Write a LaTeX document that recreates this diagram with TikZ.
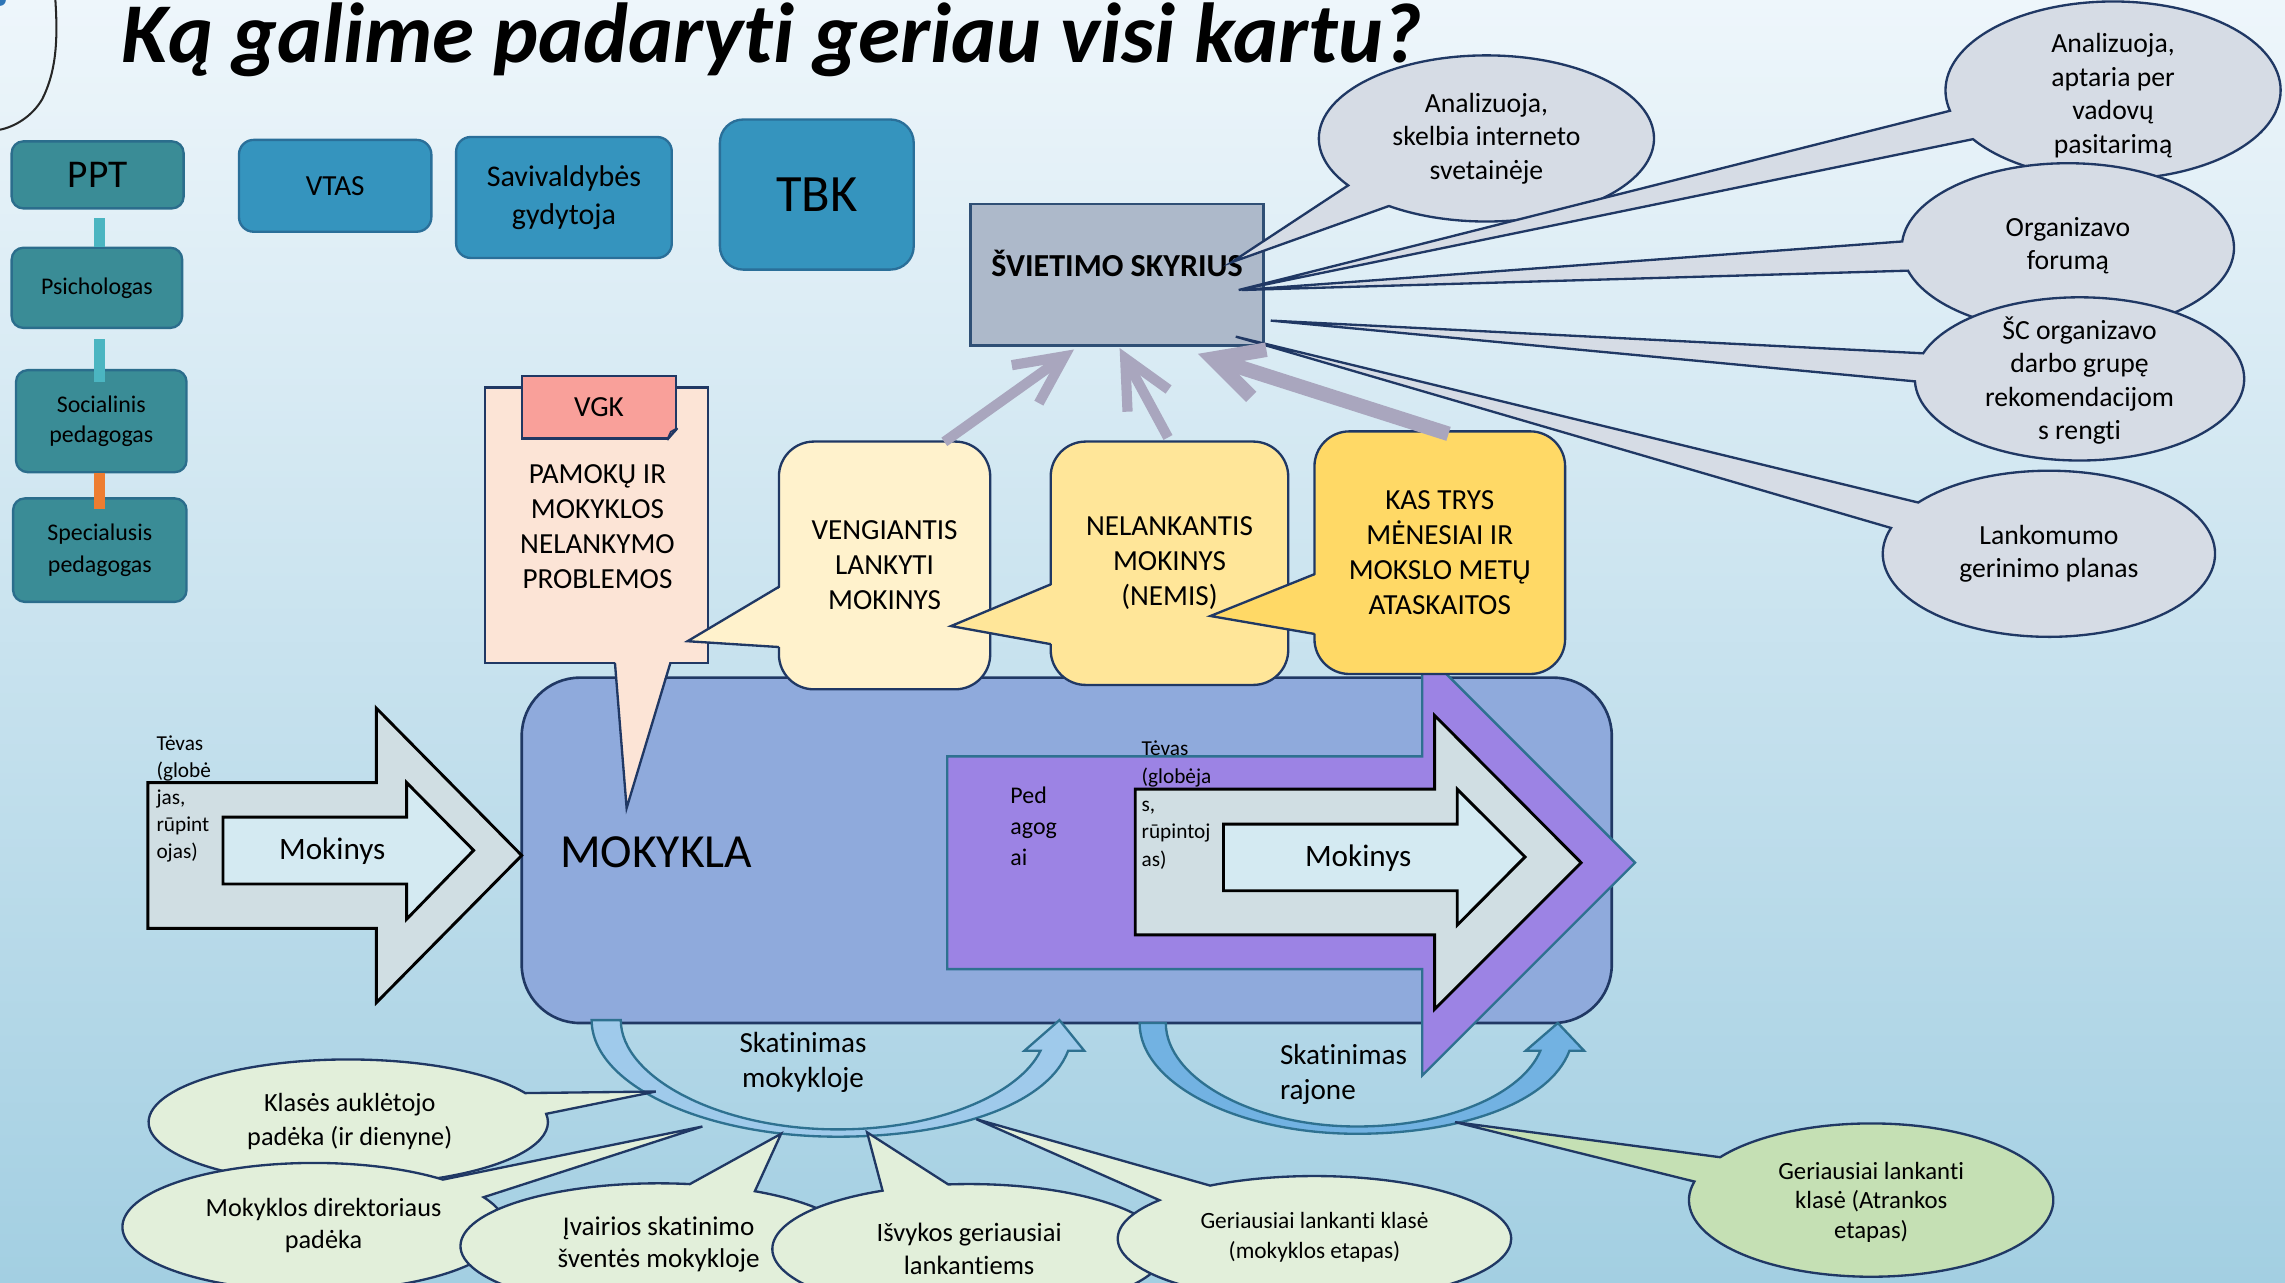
\documentclass[tikz,border=0pt]{standalone}
\usepackage{fontspec}
\setmainfont[Ligatures=NoCommon]{Carlito}
\usetikzlibrary{shapes.callouts,arrows.meta}
\newcommand\fsz[2]{\fontsize{#1}{#2}\selectfont}
\definecolor{bgtop}{HTML}{EEF6FB}
\definecolor{bgbot}{HTML}{A3CFE2}
\definecolor{tealfill}{HTML}{3A8C96}
\definecolor{tealline}{HTML}{2B6D8C}
\definecolor{bluefill}{HTML}{3594BE}
\definecolor{blueline}{HTML}{2A6F99}
\definecolor{bluedot}{HTML}{2E75B6}
\definecolor{navy}{HTML}{203864}
\definecolor{svline}{HTML}{2F4F75}
\definecolor{svfill}{HTML}{ADB9CA}
\definecolor{bubble}{HTML}{D6DCE5}
\definecolor{mokfill}{HTML}{8FAADC}
\definecolor{purp}{HTML}{9C83E4}
\definecolor{purpline}{HTML}{2E7190}
\definecolor{arrowgray}{HTML}{D0DEE3}
\definecolor{arrowlight}{HTML}{D4EAF2}
\definecolor{peach}{HTML}{FCE4D6}
\definecolor{salmon}{HTML}{F9A09A}
\definecolor{cream}{HTML}{FFF2CC}
\definecolor{yellowmid}{HTML}{FFE699}
\definecolor{yellowdeep}{HTML}{FFD966}
\definecolor{grayarrow}{HTML}{A9A6BE}
\definecolor{curveA}{HTML}{9FCAEB}
\definecolor{curveB}{HTML}{72B2E2}
\definecolor{greenlight}{HTML}{E2EFDA}
\definecolor{greenmid}{HTML}{C5E0B4}
\definecolor{barteal}{HTML}{4BB5C1}
\definecolor{barorange}{HTML}{ED7D31}
\begin{document}
\begin{tikzpicture}[x=0.5pt,y=-0.5pt,
  lbox/.style={draw=tealline,fill=tealfill,line width=0.8pt,rounded corners=4pt,inner sep=0pt,align=center},
  tbox/.style={draw=blueline,fill=bluefill,line width=0.8pt,rounded corners=5pt,inner sep=0pt,align=center},
  txt/.style={inner sep=0pt,align=center},
  ecall/.style={ellipse callout,draw=navy,fill=bubble,line width=0.8pt,inner sep=0pt,callout pointer arc=20},
  gcall/.style={ellipse callout,draw=navy,fill=greenlight,line width=0.8pt,inner sep=0pt,callout pointer arc=20},
  rbody/.style={draw=navy,line width=0.8pt,rounded corners=12pt,inner sep=0pt,align=center,font=\fsz{10}{12}},
  tailline/.style={draw=navy,line width=0.8pt,line join=miter},
  bigarrow/.style={draw=black,line width=1pt,line join=miter},
  curvearrow/.style={draw=purpline,line width=0.8pt},
  garrowA/.style={draw=grayarrow,line width=3.5pt,-{Straight Barb[length=16.5pt,width=16pt]}},
  garrowB/.style={draw=grayarrow,line width=5pt,-{Straight Barb[length=16.5pt,width=17pt]}},
  barA/.style={draw=barteal,line width=3.7pt},
  barB/.style={draw=barorange,line width=3.7pt}
]
\useasboundingbox (0,0) rectangle (1568,880);
\clip (0,0) rectangle (1568,880);
\shade[top color=bgtop,bottom color=bgbot] (0,0) rectangle (1568,880);
% top-left ornament
\draw[black!85,line width=0.7pt] (38,0) .. controls (40,30) and (38,50) .. (29,68) .. controls (22,80) and (10,87) .. (0,89);
\fill[bluedot] (0,0) circle (4);
% title
\node[anchor=base west,inner sep=0pt,font=\fsz{29.2}{32}\bfseries\itshape] (title) at (83,43) {Ką galime padaryti geriau visi kartu?};
% left column
\node[lbox,minimum width=59pt,minimum height=23pt,font=\fsz{13.5}{15}] (ppt) at (67,120) {PPT};
\node[lbox,minimum width=58.5pt,minimum height=27.5pt,font=\fsz{8.2}{10.5}] (psi) at (66.5,197.5) {Psichologas};
\node[lbox,minimum width=58.5pt,minimum height=35pt,font=\fsz{8.2}{10.5}] (soc) at (69.5,289) {Socialinis\\pedagogas};
\node[lbox,minimum width=59.5pt,minimum height=35.5pt,font=\fsz{8.2}{11}] (spec) at (68.5,377.5) {Specialusis\\pedagogas};
\draw[barA] ([shift={(1.5,6)}]ppt.south) -- ([shift={(2,0)}]psi.north);
\draw[barA] ([shift={(2,7)}]psi.south) -- ([shift={(-1,9)}]soc.north);
\draw[barB] ([shift={(-1,0)}]soc.south) -- ([shift={(0,8)}]spec.north);
% top boxes
\node[tbox,minimum width=66pt,minimum height=31.5pt,font=\fsz{10}{12}] (vtas) at (230,127.5) {VTAS};
\node[tbox,minimum width=74pt,minimum height=41.5pt,font=\fsz{10.3}{13}] (gyd) at (387,135.5) {Savivaldybės\\gydytoja};
\node[tbox,rounded corners=8pt,minimum width=66.5pt,minimum height=51.5pt,font=\fsz{18}{20}] (tbk) at (560.5,133.5) {TBK};
% Svietimo skyrius
\node[draw=svline,fill=svfill,line width=0.8pt,minimum width=100.5pt,minimum height=48.5pt,inner sep=0pt] (sv) at (766.5,188.5) {};
\node[txt,font=\fsz{11}{13}\bfseries] (svt) at (766.5,181) {ŠVIETIMO SKYRIUS};
% top callouts
\node[ecall,minimum width=115pt,minimum height=57pt,callout absolute pointer={(845,180)}] (b1) at (1020,95) {};
\node[txt,font=\fsz{9.5}{11.5}] (b1t) at (1020,95) {Analizuoja,\\skelbia interneto\\svetainėje};
\node[ecall,minimum width=115pt,minimum height=61pt,callout absolute pointer={(850,199)}] (b2) at (1450,62) {};
\node[txt,font=\fsz{9.5}{11.5}] (b2t) at (1450,65.5) {Analizuoja,\\aptaria per\\vadovų\\pasitarimą};
\node[ecall,minimum width=114pt,minimum height=58pt,callout absolute pointer={(852,199)}] (b3) at (1419,170) {};
\node[txt,font=\fsz{9.5}{11.5}] (b3t) at (1419,168.5) {Organizavo\\forumą};
\node[ecall,minimum width=113pt,minimum height=56pt,callout absolute pointer={(872,220)}] (b4) at (1427,260) {};
\node[txt,font=\fsz{9.5}{11.5}] (b4t) at (1427,261) {ŠC organizavo\\darbo grupę\\rekomendacijom\\s rengti};
\node[ecall,minimum width=114pt,minimum height=57pt,callout absolute pointer={(848,231)}] (b5) at (1406,380) {};
\node[txt,font=\fsz{9.5}{11.5}] (b5t) at (1406,380) {Lankomumo\\gerinimo planas};
% MOKYKLA
\node[draw=navy,fill=mokfill,line width=0.9pt,rounded corners=20pt,minimum width=374pt,minimum height=118.5pt,inner sep=0pt] (mokykla) at (732,583.5) {};
\node[txt,anchor=west,font=\fsz{16.3}{18}] (mokt) at (384,585) {MOKYKLA};
% curved arrows
\filldraw[curvearrow,fill=curveA] (406,700) -- (426,700) .. controls (426,739) and (493,775) .. (575,775) .. controls (645,775) and (700,750) .. (714,721) -- (703,721) -- (727,700) -- (744,721) -- (733,721) .. controls (718,760) and (650,780) .. (575,780) .. controls (482,780) and (406,744) .. (406,700) -- cycle;
\filldraw[curvearrow,fill=curveB] (782,702) -- (800,702) .. controls (800,740) and (860,773) .. (931,773) .. controls (995,773) and (1045,750) .. (1057,721) -- (1047,721) -- (1069,702) -- (1087,721) -- (1077,721) .. controls (1063,758) and (1000,778) .. (931,778) .. controls (850,778) and (782,744) .. (782,702) -- cycle;
\node[txt,font=\fsz{10}{12}] (sk1) at (551,729) {Skatinimas\\mokykloje};
\node[txt,anchor=west,align=left,font=\fsz{10}{12}] (sk2) at (878,737) {Skatinimas\\rajone};
% purple arrow
\filldraw[draw=purpline,fill=purp,line width=0.8pt] (650,519) -- (976,519) -- (976,446) -- (1122,592) -- (976,738) -- (976,665) -- (650,665) -- cycle;
\node[txt,anchor=west,align=left,font=\fsz{8.2}{10.5}] (ped) at (693,567) {Ped\\agog\\ai};
\filldraw[bigarrow,fill=arrowgray] (779,541.5) -- (984.5,541.5) -- (984.5,491) -- (1085,592) -- (984.5,692.5) -- (984.5,641.5) -- (779,641.5) -- cycle;
\filldraw[bigarrow,fill=arrowlight] (839.6,565.5) -- (1000,565.5) -- (1000,541.6) -- (1046.5,588) -- (1000,634.8) -- (1000,611.2) -- (839.6,611.2) -- cycle;
\node[txt,anchor=west,align=left,font=\fsz{7.3}{9.5}] (tev2) at (783,552.5) {Tėvas\\(globėja\\s,\\rūpintoj\\as)};
\node[txt,font=\fsz{10.7}{12}] (mok2) at (932,589) {Mokinys};
% left arrows
\filldraw[bigarrow,fill=arrowgray] (101.5,537) -- (258.3,537) -- (258.3,486) -- (358,587) -- (258.3,688) -- (258.3,637) -- (101.5,637) -- cycle;
\filldraw[bigarrow,fill=arrowlight] (153,560.7) -- (279,560.7) -- (279,537) -- (325,583.5) -- (279,630.8) -- (279,606.6) -- (153,606.6) -- cycle;
\node[txt,anchor=west,align=left,font=\fsz{7.3}{9.25}] (tev1) at (107,548) {Tėvas\\(globė\\jas,\\rūpint\\ojas)};
\node[txt,font=\fsz{10.7}{12}] (mok1) at (228,584) {Mokinys};
% peach paper with tail
\node[draw=navy,fill=peach,line width=0.8pt,minimum width=76.5pt,minimum height=94.5pt,inner sep=0pt] (pam) at (409.5,360.5) {};
\fill[peach] (422,452) -- (430,554.5) -- (460,452) -- cycle;
\draw[tailline] (422,455) -- (430,554.5) -- (460,455);
\node[txt,font=\fsz{10}{12}] (pamt) at (410,361.5) {PAMOKŲ IR\\MOKYKLOS\\NELANKYMO\\PROBLEMOS};
% VGK tag
\node[draw=navy,fill=salmon,line width=0.8pt,minimum width=53pt,minimum height=21.5pt,inner sep=0pt,font=\fsz{10}{12}] (vgk) at (411,279.5) {VGK};
\fill[peach] ([shift={(1.5,-8)}]vgk.south east) -- ([shift={(1.5,1.5)}]vgk.south east) -- ([shift={(-8,1.5)}]vgk.south east) -- cycle;
\draw[tailline] ([shift={(0,-8)}]vgk.south east) -- ([shift={(-7,0)}]vgk.south east);
\draw[navy,line width=0.6pt] ([shift={(0,-8)}]vgk.south east) -- ([shift={(-4.5,-5.5)}]vgk.south east) -- ([shift={(-7,0)}]vgk.south east);
% rounded callouts
\node[rbody,fill=cream,minimum width=72.5pt,minimum height=85pt] (veng) at (607,388) {VENGIANTIS\\LANKYTI\\MOKINYS};
\fill[cream] (536.5,402.6) -- (471.8,440) -- (536.5,444) -- cycle;
\draw[tailline] (534.6,402.6) -- (471.8,440) -- (534.6,444);
\node[rbody,fill=yellowmid,minimum width=81.5pt,minimum height=83.5pt] (nel) at (802.5,386.5) {NELANKANTIS\\MOKINYS\\(NEMIS)};
\fill[yellowmid] (723,401) -- (652.6,429.6) -- (723,442) -- cycle;
\draw[tailline] (721,401) -- (652.6,429.6) -- (721,442);
\node[rbody,fill=yellowdeep,minimum width=86pt,minimum height=83.25pt] (kas) at (988,379.25) {KAS TRYS\\MĖNESIAI IR\\MOKSLO METŲ\\ATASKAITOS};
\fill[yellowdeep] (904,394) -- (830.6,422.7) -- (904,435) -- cycle;
\draw[tailline] (902,394) -- (830.6,422.7) -- (902,435);
% gray arrows to Svietimo skyrius
\draw[garrowA] ([shift={(41,1)}]veng.north) -- ([shift={(-29.5,2)}]sv.south);
\draw[garrowA] ([shift={(-1,-2)}]nel.north) -- ([shift={(1.8,1)}]sv.south);
\draw[garrowB] ([shift={(6,2.5)}]kas.north) -- ([shift={(55.5,5)}]sv.south);
% bottom callouts
\node[gcall,minimum width=137pt,minimum height=43pt,callout absolute pointer={(450,749)}] (g1) at (239,770) {};
\node[txt,font=\fsz{9}{11.5}] (g1t) at (240,769.5) {Klasės auklėtojo\\padėka (ir dienyne)};
\node[gcall,minimum width=131.5pt,minimum height=44pt,callout absolute pointer={(482,773)}] (g2) at (215.5,842) {};
\node[txt,font=\fsz{9}{11}] (g2t) at (222,841) {Mokyklos direktoriaus\\padėka};
\node[gcall,minimum width=136pt,minimum height=43pt,callout absolute pointer={(536,778)}] (g3) at (452,855) {};
\node[txt,font=\fsz{9.3}{11}] (g3t) at (452,854) {Įvairios skatinimo\\šventės mokykloje};
\node[gcall,minimum width=135pt,minimum height=44.5pt,callout absolute pointer={(595,777)}] (g4) at (665,857) {};
\node[txt,font=\fsz{9.1}{11}] (g4t) at (665,857) {Išvykos geriausiai\\lankantiems};
\node[gcall,minimum width=135pt,minimum height=43pt,callout absolute pointer={(670,768)}] (g5) at (902,850) {};
\node[txt,font=\fsz{8}{10}] (g5t) at (902,849) {Geriausiai lankanti klasė\\(mokyklos etapas)};
\node[gcall,fill=greenmid,minimum width=125pt,minimum height=52.6pt,callout absolute pointer={(998.5,770)}] (g6) at (1284,823.5) {};
\node[txt,font=\fsz{8.5}{10}] (g6t) at (1284,825) {Geriausiai lankanti\\klasė (Atrankos\\etapas)};
\end{tikzpicture}
\end{document}
